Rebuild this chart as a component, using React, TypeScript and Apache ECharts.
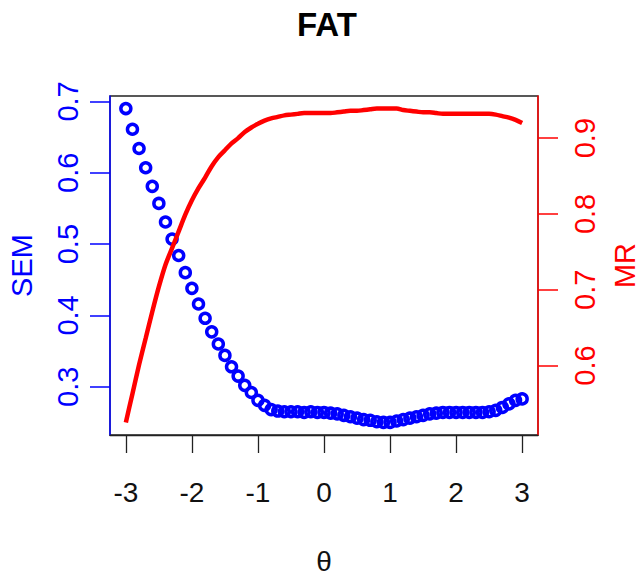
import React, { useEffect, useRef } from "react";
import * as echarts from "echarts";

const theta = [
  -3.0, -2.9, -2.8, -2.7, -2.6, -2.5, -2.4, -2.3, -2.2, -2.1, -2.0,
  -1.9, -1.8, -1.7, -1.6, -1.5, -1.4, -1.3, -1.2, -1.1, -1.0,
  -0.9, -0.8, -0.7, -0.6, -0.5, -0.4, -0.3, -0.2, -0.1, 0.0,
  0.1, 0.2, 0.3, 0.4, 0.5, 0.6, 0.7, 0.8, 0.9, 1.0,
  1.1, 1.2, 1.3, 1.4, 1.5, 1.6, 1.7, 1.8, 1.9, 2.0,
  2.1, 2.2, 2.3, 2.4, 2.5, 2.6, 2.7, 2.8, 2.9, 3.0,
];

const sem = [
  0.690, 0.661, 0.634, 0.607, 0.581, 0.557, 0.531, 0.507, 0.484, 0.460, 0.438,
  0.416, 0.396, 0.377, 0.360, 0.344, 0.328, 0.315, 0.302, 0.292, 0.281,
  0.274, 0.268, 0.266, 0.265, 0.265, 0.265, 0.264, 0.265, 0.264, 0.264,
  0.263, 0.262, 0.260, 0.258, 0.256, 0.254, 0.253, 0.251, 0.250, 0.250,
  0.252, 0.254, 0.256, 0.258, 0.260, 0.262, 0.263, 0.264, 0.264, 0.264,
  0.264, 0.264, 0.264, 0.264, 0.265, 0.267, 0.271, 0.276, 0.281, 0.283,
];

const mr = [
  0.525, 0.563, 0.601, 0.636, 0.671, 0.704, 0.733, 0.755, 0.777, 0.799, 0.818,
  0.834, 0.848, 0.863, 0.875, 0.884, 0.893, 0.900, 0.908, 0.914, 0.919,
  0.923, 0.926, 0.928, 0.930, 0.931, 0.932, 0.933, 0.933, 0.933, 0.933,
  0.933, 0.934, 0.935, 0.936, 0.936, 0.937, 0.938, 0.939, 0.939, 0.939,
  0.939, 0.937, 0.936, 0.935, 0.934, 0.934, 0.933, 0.932, 0.932, 0.932,
  0.932, 0.932, 0.932, 0.932, 0.932, 0.931, 0.929, 0.927, 0.924, 0.920,
];

const xTicks = [-3, -2, -1, 0, 1, 2, 3];
const semTicks = [0.3, 0.4, 0.5, 0.6, 0.7];
const mrTicks = [0.6, 0.7, 0.8, 0.9];

const FONT = "'Liberation Sans', Arial, sans-serif";

function padRange(vals: number[]) {
  const lo = Math.min(...vals);
  const hi = Math.max(...vals);
  const r = hi - lo;
  return [lo - 0.04 * r, hi + 0.04 * r];
}

export default function App() {
  const ref = useRef<HTMLDivElement>(null);
  useEffect(() => {
    if (!ref.current) return;
    const chart = echarts.init(ref.current, null, { renderer: "svg" });
    const [xMin, xMax] = padRange(theta);
    const [sMin, sMax] = padRange(sem);
    const [mMin, mMax] = padRange(mr);
    chart.setOption({
      animation: false,
      backgroundColor: "#fff",
      title: {
        text: "FAT",
        left: 292,
        top: 3,
        textStyle: { fontFamily: FONT, fontSize: 33, fontWeight: "bold", color: "#000" },
      },
      grid: {
        left: 110,
        right: 103,
        top: 96,
        bottom: 142,
        show: true,
        borderColor: "#222",
        borderWidth: 1.3,
        backgroundColor: "transparent",
        containLabel: false,
        outerBoundsMode: "none",
      },
      xAxis: {
        type: "value",
        min: xMin,
        max: xMax,
        name: "θ",
        nameLocation: "middle",
        nameGap: 112,
        nameTextStyle: { fontFamily: FONT, fontSize: 28, color: "#111" },
        axisLine: { show: true, onZero: false, lineStyle: { color: "#222", width: 1.3 } },
        axisTick: { show: true, customValues: xTicks, length: 18, lineStyle: { color: "#222", width: 1.3 } },
        axisLabel: {
          customValues: xTicks,
          margin: 43,
          fontFamily: FONT,
          fontSize: 28,
          color: "#111",
        },
        splitLine: { show: false },
      },
      yAxis: [
        {
          type: "value",
          position: "left",
          min: sMin,
          max: sMax,
          name: "SEM",
          nameLocation: "middle",
          nameRotate: 90,
          nameGap: 74,
          nameTextStyle: { fontFamily: FONT, fontSize: 29, color: "#0000ff" },
          axisLine: { show: true, onZero: false, lineStyle: { color: "#0000ff", width: 1.5 } },
          axisTick: { show: true, customValues: semTicks, length: 20, lineStyle: { color: "#0000ff", width: 1.5 } },
          axisLabel: {
            customValues: semTicks,
            rotate: 90,
            margin: 28,
            fontFamily: FONT,
            fontSize: 29,
            color: "#0000ff",
            formatter: (v: number) => v.toFixed(1),
          },
          splitLine: { show: false },
        },
        {
          type: "value",
          position: "right",
          min: mMin,
          max: mMax,
          name: "MR",
          nameLocation: "middle",
          nameRotate: 90,
          nameGap: 72,
          nameTextStyle: { fontFamily: FONT, fontSize: 29, color: "#ff0000" },
          axisLine: { show: true, onZero: false, lineStyle: { color: "#ff0000", width: 1.5 } },
          axisTick: { show: true, customValues: mrTicks, length: 20, lineStyle: { color: "#ff0000", width: 1.5 } },
          axisLabel: {
            customValues: mrTicks,
            rotate: 90,
            margin: 32,
            fontFamily: FONT,
            fontSize: 29,
            color: "#ff0000",
            formatter: (v: number) => v.toFixed(1),
          },
          splitLine: { show: false },
        },
      ],
      series: [
        {
          name: "SEM",
          type: "scatter",
          yAxisIndex: 0,
          symbol: "circle",
          symbolSize: 10,
          itemStyle: { color: "transparent", borderColor: "#0000ff", borderWidth: 3.5, opacity: 1 },
          data: theta.map((t, i) => [t, sem[i]]),
          z: 2,
        },
        {
          name: "MR",
          type: "line",
          yAxisIndex: 1,
          showSymbol: false,
          smooth: 0.3,
          lineStyle: { color: "#ff0000", width: 4.5 },
          data: theta.map((t, i) => [t, mr[i]]),
          z: 3,
        },
      ],
    });
    return () => chart.dispose();
  }, []);
  return (
    <div
      ref={ref}
      style={{ position: "fixed", left: 0, top: 0, width: 641, height: 577, background: "#fff" }}
    />
  );
}
